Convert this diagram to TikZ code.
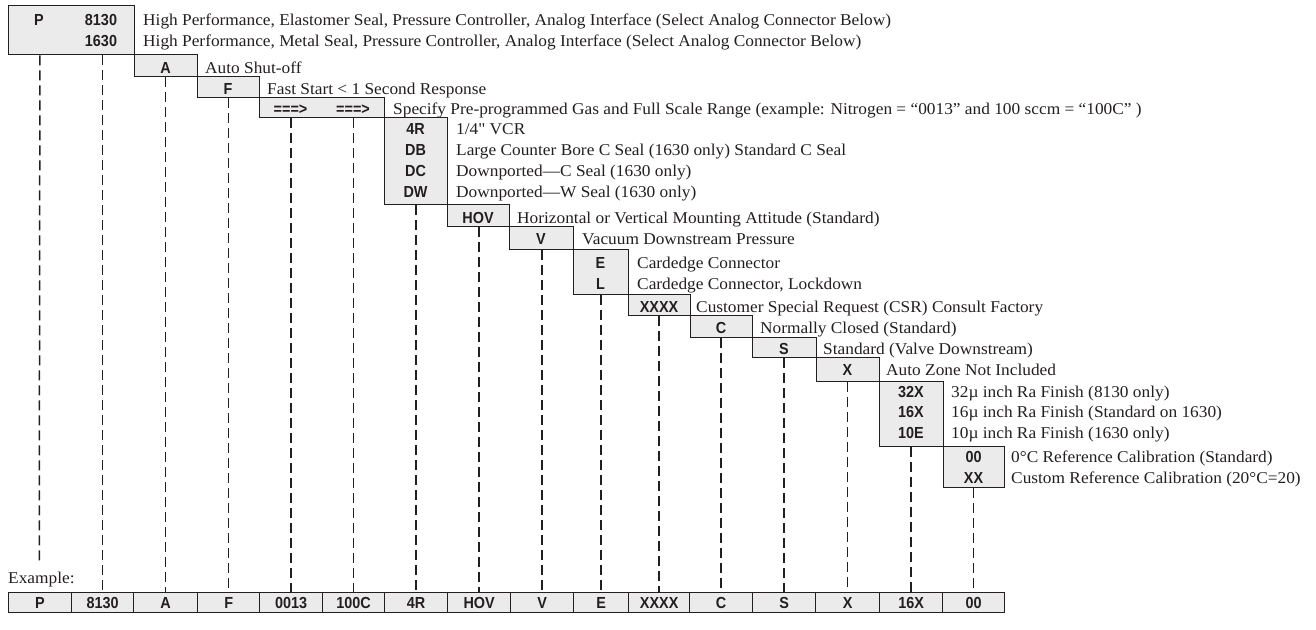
\documentclass[tikz,border=0pt]{standalone}
\usepackage{fontspec}
\setmainfont{Liberation Serif}[FakeStretch=1.05]
\newfontfamily\codefont{Liberation Sans}[FakeStretch=0.9]
\newcommand\straightquote{{\addfontfeatures{Ligatures=TeXOff}"}}
\definecolor{boxgray}{RGB}{235,235,235}
\definecolor{ink}{RGB}{35,31,32}
\tikzset{
  box/.style={draw=ink, line width=1.3pt, fill=boxgray, inner sep=0pt, anchor=north west},
  code/.style={font=\codefont\bfseries\fontsize{16}{16}\selectfont, text=ink, inner sep=0pt, anchor=base},
  cell/.style={draw=ink, line width=1.3pt, fill=boxgray, inner sep=0pt, anchor=north west, minimum height=20, font=\codefont\bfseries\fontsize{16}{16}\selectfont, text=ink},
  desc/.style={font=\fontsize{16.5}{16.5}\selectfont, text=ink, inner sep=0pt, anchor=base west},
  dashline/.style={draw=ink, line width=1.5pt, dash pattern=on 10pt off 5pt},
}
\begin{document}
\begin{tikzpicture}[x=1pt,y=-1pt]
\useasboundingbox (0,0) rectangle (1316,629);
% staircase boxes
\node[box, minimum width=126, minimum height=49] (b1) at (8,5) {};
\node[box, minimum width=63, minimum height=22] (bA) at (134,54) {};
\node[box, minimum width=62, minimum height=21] (bF) at (197,76) {};
\node[box, minimum width=125, minimum height=20] (bG) at (259,97) {};
\node[box, minimum width=63, minimum height=87] (b4R) at (384,117) {};
\node[box, minimum width=62, minimum height=22] (bHOV) at (447,204) {};
\node[box, minimum width=64, minimum height=23] (bV) at (509,226) {};
\node[box, minimum width=55, minimum height=45] (bE) at (573,249) {};
\node[box, minimum width=62, minimum height=21] (bXXXX) at (628,294) {};
\node[box, minimum width=62, minimum height=22] (bC) at (690,315) {};
\node[box, minimum width=64, minimum height=20] (bS) at (752,337) {};
\node[box, minimum width=63, minimum height=24] (bX) at (816,357) {};
\node[box, minimum width=64, minimum height=65] (b32) at (879,381) {};
\node[box, minimum width=61, minimum height=41] (b00) at (943,446) {};
% codes in staircase
\node[code] (kP) at (39,25) {P};
\node[code] (k8130) at (101,25) {8130};
\node[code] (k1630) at (101,46) {1630};
\node[code] (kA) at (165.5,73) {A};
\node[code] (kF) at (228,94.5) {F};
\node[code] (kG1) at (290.5,114.5) {===>};
\node[code] (kG2) at (353,114.5) {===>};
\node[code] (k4R) at (415.5,134) {4R};
\node[code] (kDB) at (415.5,155) {DB};
\node[code] (kDC) at (415.5,176) {DC};
\node[code] (kDW) at (415.5,197) {DW};
\node[code] (kHOV) at (478,223) {HOV};
\node[code] (kV) at (541,244) {V};
\node[code] (kE) at (600.5,268) {E};
\node[code] (kL) at (600.5,289) {L};
\node[code] (kXXXX) at (659,312) {XXXX};
\node[code] (kC) at (721,333.5) {C};
\node[code] (kS) at (784,354.5) {S};
\node[code] (kX) at (847.5,375) {X};
\node[code] (k32X) at (911,397) {32X};
\node[code] (k16X) at (911,417.5) {16X};
\node[code] (k10E) at (911,438) {10E};
\node[code] (k00) at (973.5,462) {00};
\node[code] (kXX) at (973.5,483) {XX};
% descriptions
\node[desc] (d1) at (143,25) {High Performance, Elastomer Seal, Pressure Controller, Analog Interface (Select Analog Connector Below)};
\node[desc] (d2) at (143,46) {High Performance, Metal Seal, Pressure Controller, Analog Interface (Select Analog Connector Below)};
\node[desc] (dA) at (205,73) {Auto Shut-off};
\node[desc] (dF) at (267,94.5) {Fast Start < 1 Second Response};
\node[desc] (dG) at (393,114.5) {Specify Pre-programmed Gas and Full Scale Range (example: Nitrogen = “0013” and 100 sccm = “100C” )};
\node[desc] (d4R) at (456,134) {1/4\straightquote{} VCR};
\node[desc] (dDB) at (456,155) {Large Counter Bore C Seal (1630 only) Standard C Seal};
\node[desc] (dDC) at (456,176) {Downported—C Seal (1630 only)};
\node[desc] (dDW) at (456,197) {Downported—W Seal (1630 only)};
\node[desc] (dHOV) at (517,223) {Horizontal or Vertical Mounting Attitude (Standard)};
\node[desc] (dV) at (582,244) {Vacuum Downstream Pressure};
\node[desc] (dE) at (637,268) {Cardedge Connector};
\node[desc] (dL) at (637,289) {Cardedge Connector, Lockdown};
\node[desc] (dXXXX) at (696,312) {Customer Special Request (CSR) Consult Factory};
\node[desc] (dC) at (760,333.5) {Normally Closed (Standard)};
\node[desc] (dS) at (823,354.5) {Standard (Valve Downstream)};
\node[desc] (dX) at (886,375) {Auto Zone Not Included};
\node[desc] (d32X) at (951,397) {32µ inch Ra Finish (8130 only)};
\node[desc] (d16X) at (951,417.5) {16µ inch Ra Finish (Standard on 1630)};
\node[desc] (d10E) at (951,438) {10µ inch Ra Finish (1630 only)};
\node[desc] (d00) at (1011,462) {0°C Reference Calibration (Standard)};
\node[desc] (dXX) at (1011,483) {Custom Reference Calibration (20°C=20)};
\node[desc] (dEx) at (8,583) {Example:};
% example row
\node[cell, minimum width=63.5] (e1) at (7.5,592) {P};
\node[cell, minimum width=62] (e2) at (71,592) {8130};
\node[cell, minimum width=64] (e3) at (133,592) {A};
\node[cell, minimum width=62] (e4) at (197,592) {F};
\node[cell, minimum width=63] (e5) at (259,592) {0013};
\node[cell, minimum width=62] (e6) at (322,592) {100C};
\node[cell, minimum width=63] (e7) at (384,592) {4R};
\node[cell, minimum width=63] (e8) at (447,592) {HOV};
\node[cell, minimum width=63] (e9) at (510,592) {V};
\node[cell, minimum width=55] (e10) at (573,592) {E};
\node[cell, minimum width=61] (e11) at (628,592) {XXXX};
\node[cell, minimum width=63] (e12) at (689,592) {C};
\node[cell, minimum width=63] (e13) at (752,592) {S};
\node[cell, minimum width=64] (e14) at (815,592) {X};
\node[cell, minimum width=63] (e15) at (879,592) {16X};
\node[cell, minimum width=62] (e16) at (942,592) {00};
% dashed connectors
\coordinate (pend) at (39.25,563);
\draw[dashline] (b1.south -| e1.north) -- (pend);
\draw[dashline] (b1.south -| e2.north) -- (e2.north);
\draw[dashline] (bA.south -| e3.north) -- (e3.north);
\draw[dashline] (bF.south -| e4.north) -- (e4.north);
\draw[dashline] (bG.south -| e5.north) -- (e5.north);
\draw[dashline] (bG.south -| e6.north) -- (e6.north);
\draw[dashline] (b4R.south -| e7.north) -- (e7.north);
\draw[dashline] (bHOV.south -| e8.north) -- (e8.north);
\draw[dashline] (bV.south -| e9.north) -- (e9.north);
\draw[dashline] (bE.south -| e10.north) -- (e10.north);
\draw[dashline] (bXXXX.south -| e11.north) -- (e11.north);
\draw[dashline] (bC.south -| e12.north) -- (e12.north);
\draw[dashline] (bS.south -| e13.north) -- (e13.north);
\draw[dashline] (bX.south -| e14.north) -- (e14.north);
\draw[dashline] (b32.south -| e15.north) -- (e15.north);
\draw[dashline] (b00.south -| e16.north) -- (e16.north);
\end{tikzpicture}
\end{document}
